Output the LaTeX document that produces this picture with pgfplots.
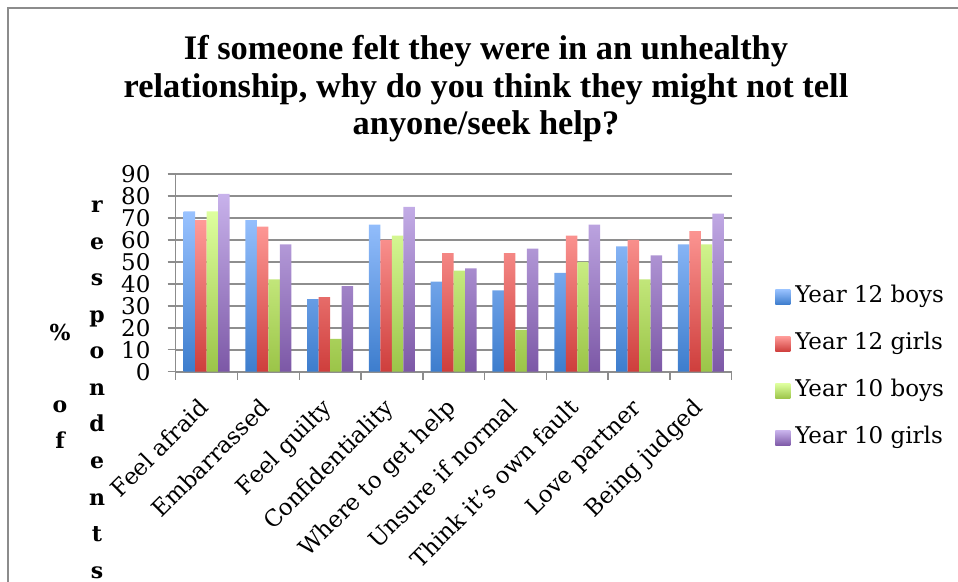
\documentclass[border=0pt]{standalone}
\usepackage{fontspec}
\setmainfont{DejaVu Serif}
\newfontfamily\titlefont{Liberation Serif}
\usepackage{pgfplots}
\pgfplotsset{compat=1.18}

\definecolor{framegray}{RGB}{140,140,140}
\definecolor{gridgray}{RGB}{142,142,142}
\definecolor{blueTop}{RGB}{153,194,255}
\definecolor{blueBot}{RGB}{61,125,205}
\definecolor{redTop}{RGB}{255,155,152}
\definecolor{redBot}{RGB}{206,62,60}
\definecolor{greenTop}{RGB}{222,255,158}
\definecolor{greenBot}{RGB}{155,196,72}
\definecolor{purpleTop}{RGB}{200,178,235}
\definecolor{purpleBot}{RGB}{124,88,166}

% survey results, % of respondents
\pgfplotstableread{
x  y12boys y12girls y10boys y10girls
0  73      69       73      81
1  69      66       42      58
2  33      34       15      39
3  67      60       62      75
4  41      54       46      47
5  37      54       19      56
6  45      62       50      67
7  57      60       42      53
8  58      64       58      72
}\results

\begin{document}
\begin{tikzpicture}[x=1pt,y=1pt]
\useasboundingbox (0,0) rectangle (958,581);
% chart frame
\draw[framegray, line width=1.5pt] (8,-2) -- (8,573) -- (960,573);

% title
\begin{scope}[every node/.style={anchor=base, font=\titlefont\bfseries\fontsize{34.4}{37.5}\selectfont}]
\node at (486,521) {If someone felt they were in an unhealthy};
\node at (486,483.5) {relationship, why do you think they might not tell};
\node at (486,446) {anyone/seek help?};
\end{scope}

% stacked axis title
\begin{scope}[every node/.style={anchor=base, inner sep=0pt, font=\bfseries\fontsize{22}{22}\selectfont}]
\node at (60,{581-341}) {\%};
\node at (60,{581-413}) {o};
\node at (60,{581-449}) {f};
\foreach \ch [count=\i] in {r,e,s,p,o,n,d,e,n,t,s}
  \node at (97,{581-213-36.5*(\i-1)}) {\ch};
\end{scope}

\begin{axis}[
  at={(175.7pt,209.3pt)}, anchor=south west,
  scale only axis, width=556pt, height=197.7pt,
  xmin=-0.5, xmax=8.5, ymin=0, ymax=90,
  ybar=0pt, bar width=0.186,
  axis x line*=bottom, axis y line*=left,
  axis line style={framegray, line width=1.5pt},
  ymajorgrids, grid style={gridgray, line width=1.8pt},
  ytick={0,10,...,90},
  xtick={-0.5,0.5,...,8.5}, x tick label as interval,
  xticklabels={Feel afraid, Embarrassed, Feel guilty, Confidentiality,
    Where to get help, Unsure if normal, Think it's own fault,
    Love partner, Being judged},
  tick align=outside, major tick length=8pt,
  tick style={framegray, line width=1.5pt},
  /pgf/number format/assume math mode=true,
  ticklabel style={font=\fontsize{23}{23}\selectfont},
  yticklabel style={inner sep=0pt, xshift=-17pt},
  xticklabel style={xshift=3pt, yshift=-29.5pt, rotate=45,
    anchor=base east, inner sep=0pt},
  legend cell align=left,
  legend image code/.code={\path[#1,draw=none] (0pt,-7.5pt) rectangle (15pt,7.5pt);},
  legend style={at={(1.078,0.021)}, anchor=west, draw=none, fill=none,
    inner sep=0pt, row sep=24.6pt, column sep=5pt,
    font=\fontsize{23}{23}\selectfont,
    nodes={inner sep=0pt, text height=17pt, text depth=5.5pt}},
]
\addplot[draw=none, top color=blueTop, bottom color=blueBot] table[x=x, y=y12boys] {\results};
\addplot[draw=none, top color=redTop, bottom color=redBot] table[x=x, y=y12girls] {\results};
\addplot[draw=none, top color=greenTop, bottom color=greenBot] table[x=x, y=y10boys] {\results};
\addplot[draw=none, top color=purpleTop, bottom color=purpleBot] table[x=x, y=y10girls] {\results};
\legend{Year 12 boys, Year 12 girls, Year 10 boys, Year 10 girls}
\end{axis}
\end{tikzpicture}
\end{document}
